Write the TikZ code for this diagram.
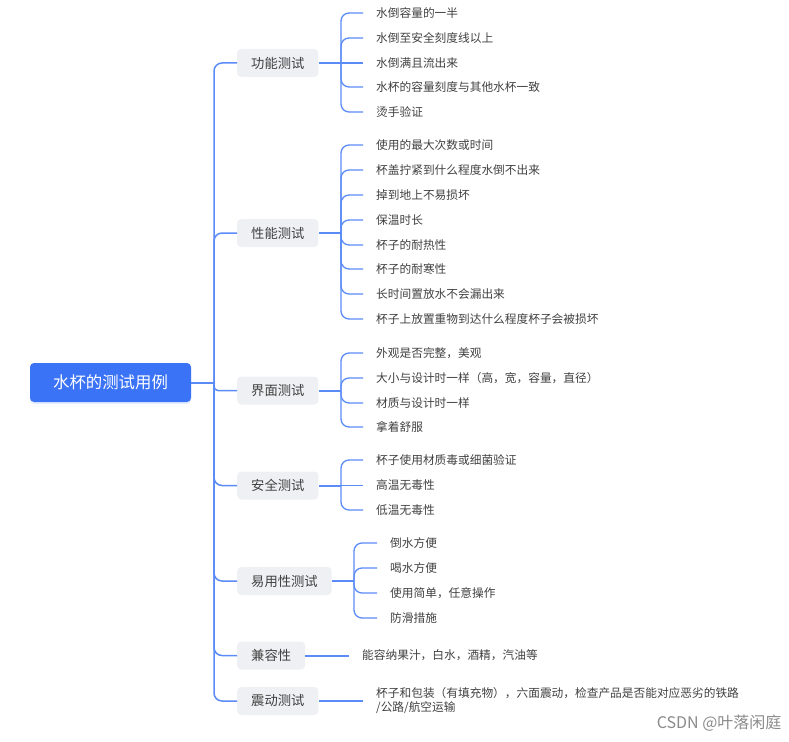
\documentclass[tikz,border=0pt]{standalone}
\usepackage{fontspec}
\setmainfont{Noto Sans CJK SC}
\usetikzlibrary{positioning}
\usetikzlibrary{shadows}
\definecolor{rootblue}{HTML}{3B73F6}
\definecolor{linkblue}{HTML}{5A8BF7}
\definecolor{branchgray}{HTML}{EEF0F3}
\definecolor{textgray}{HTML}{404040}
\definecolor{markgray}{HTML}{8A8A8A}
\tikzset{
  rootbox/.style={fill=rootblue, rounded corners=4pt, minimum width=161pt, minimum height=39pt,
    text=white, font=\fontsize{16.4}{20}\selectfont,
    drop shadow={shadow xshift=0pt, shadow yshift=-2pt, opacity=0.25, fill=rootblue!50}},
  branchbox/.style={anchor=west, fill=branchgray, rounded corners=4pt, minimum height=28pt,
    inner xsep=14pt, text=textgray, font=\fontsize{13.3}{16}\selectfont},
  leaf/.style={anchor=west, inner xsep=13pt, inner ysep=0pt, text=textgray,
    font=\fontsize{11.7}{14}\selectfont},
  trunkline/.style={draw=linkblue, line width=1.5pt, rounded corners=8pt},
  thickline/.style={draw=linkblue, line width=2pt},
  leafline/.style={draw=linkblue, line width=1.3pt, rounded corners=8pt},
}
\begin{document}
\begin{tikzpicture}[x=1pt,y=-1pt]
\useasboundingbox (0,0) rectangle (789,741);
\node[rootbox] (cup) at (110.5,382.5) {水杯的测试用例};
\coordinate (trunk) at (214,382.5);
%%%%%%%%%%%%%%
\node[branchbox] (func) at (237,63) {功能测试};
\node[branchbox] (perf) at (237,233) {性能测试};
\node[branchbox] (look) at (237,390.5) {界面测试};
\node[branchbox] (safe) at (237,485.5) {安全测试};
\node[branchbox] (ease) at (237,581) {易用性测试};
\node[branchbox] (comp) at (237,655.5) {兼容性};
\node[branchbox] (shake) at (237,701) {震动测试};
%%%%%%%%%%%%%%
\coordinate (auxfunc) at (341,63);
\node[leaf] (func1) at (363,13) {水倒容量的一半};
\node[leaf] (func2) at (363,38) {水倒至安全刻度线以上};
\node[leaf] (func3) at (363,63) {水倒满且流出来};
\node[leaf] (func4) at (363,87) {水杯的容量刻度与其他水杯一致};
\node[leaf] (func5) at (363,112) {烫手验证};
%%%%%%%%%%%%%%
\coordinate (auxperf) at (341,233);
\node[leaf] (perf1) at (363,145) {使用的最大次数或时间};
\node[leaf] (perf2) at (363,170) {杯盖拧紧到什么程度水倒不出来};
\node[leaf] (perf3) at (363,195) {掉到地上不易损坏};
\node[leaf] (perf4) at (363,220) {保温时长};
\node[leaf] (perf5) at (363,245) {杯子的耐热性};
\node[leaf] (perf6) at (363,269) {杯子的耐寒性};
\node[leaf] (perf7) at (363,294) {长时间置放水不会漏出来};
\node[leaf] (perf8) at (363,319) {杯子上放置重物到达什么程度杯子会被损坏};
%%%%%%%%%%%%%%
\coordinate (auxlook) at (341,390.5);
\node[leaf] (look1) at (363,353) {外观是否完整，美观};
\node[leaf] (look2) at (363,378) {大小与设计时一样（高，宽，容量，直径）};
\node[leaf] (look3) at (363,403) {材质与设计时一样};
\node[leaf] (look4) at (363,427) {拿着舒服};
%%%%%%%%%%%%%%
\coordinate (auxsafe) at (341,485.5);
\node[leaf] (safe1) at (363,460) {杯子使用材质毒或细菌验证};
\node[leaf] (safe2) at (363,485.5) {高温无毒性};
\node[leaf] (safe3) at (363,510) {低温无毒性};
%%%%%%%%%%%%%%
\coordinate (auxease) at (354,581);
\node[leaf] (ease1) at (377,543) {倒水方便};
\node[leaf] (ease2) at (377,568) {喝水方便};
\node[leaf] (ease3) at (377,593) {使用简单，任意操作};
\node[leaf] (ease4) at (377,618) {防滑措施};
%%%%%%%%%%%%%%
\node[leaf] (comp1) at (349,655.5) {能容纳果汁，白水，酒精，汽油等};
\node[leaf, align=left] (shake1) at (363,701) {杯子和包装（有填充物），六面震动，检查产品是否能对应恶劣的铁路\\/公路/航空运输};
%%%%%%%%%%%%%%
\node[anchor=east, text=markgray, font=\fontsize{16}{18}\selectfont] (mark) at (785,723) {CSDN @叶落闲庭};

\draw[thickline] (cup.east) -- (trunk);
\draw[trunkline] (trunk) |- (func.west);
\draw[trunkline] (trunk) |- (perf.west);
\draw[trunkline, rounded corners=4pt] (trunk) |- (look.west);
\draw[trunkline] (trunk) |- (safe.west);
\draw[trunkline] (trunk) |- (ease.west);
\draw[trunkline] (trunk) |- (comp.west);
\draw[trunkline] (trunk) |- (shake.west);
%%%%%%%%%%%%%%%%%%%%%%%%%%
\draw[thickline] (func.east) -- (auxfunc);
\draw[leafline] (auxfunc) |- (func1.west);
\draw[leafline] (auxfunc) |- (func2.west);
\draw[leafline] (auxfunc) -- (func3.west);
\draw[leafline] (auxfunc) |- (func4.west);
\draw[leafline] (auxfunc) |- (func5.west);
%%%%%%%%%%%%%%%%%%%%%%%%%%
\draw[thickline] (perf.east) -- (auxperf);
\draw[leafline] (auxperf) |- (perf1.west);
\draw[leafline] (auxperf) |- (perf2.west);
\draw[leafline] (auxperf) |- (perf3.west);
\draw[leafline] (auxperf) |- (perf4.west);
\draw[leafline] (auxperf) |- (perf5.west);
\draw[leafline] (auxperf) |- (perf6.west);
\draw[leafline] (auxperf) |- (perf7.west);
\draw[leafline] (auxperf) |- (perf8.west);
%%%%%%%%%%%%%%%%%%%%%%%%%%
\draw[thickline] (look.east) -- (auxlook);
\draw[leafline] (auxlook) |- (look1.west);
\draw[leafline] (auxlook) |- (look2.west);
\draw[leafline] (auxlook) |- (look3.west);
\draw[leafline] (auxlook) |- (look4.west);
%%%%%%%%%%%%%%%%%%%%%%%%%%
\draw[thickline] (safe.east) -- (auxsafe);
\draw[leafline] (auxsafe) |- (safe1.west);
\draw[leafline] (auxsafe) -- (safe2.west);
\draw[leafline] (auxsafe) |- (safe3.west);
%%%%%%%%%%%%%%%%%%%%%%%%%%
\draw[thickline] (ease.east) -- (auxease);
\draw[leafline] (auxease) |- (ease1.west);
\draw[leafline] (auxease) |- (ease2.west);
\draw[leafline] (auxease) |- (ease3.west);
\draw[leafline] (auxease) |- (ease4.west);
%%%%%%%%%%%%%%%%%%%%%%%%%%
\draw[thickline] (comp.east) -- (comp1.west);
\draw[thickline] (shake.east) -- (shake1.west);
\end{tikzpicture}
\end{document}
